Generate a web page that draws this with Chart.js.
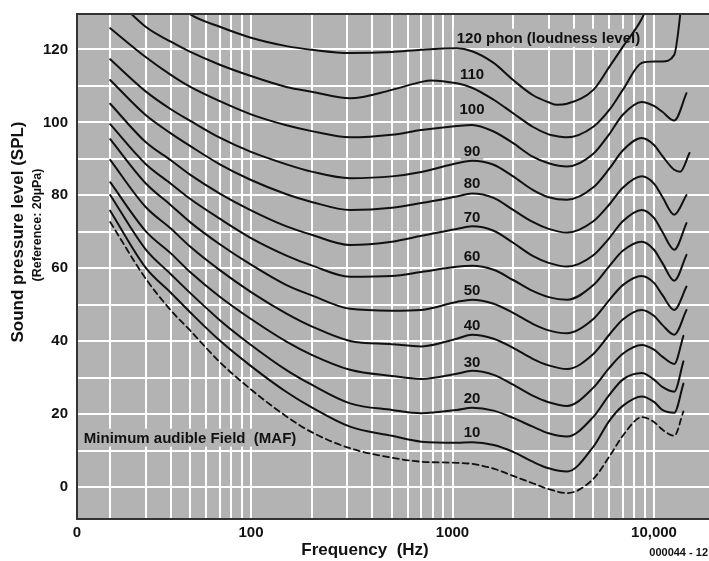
<!DOCTYPE html>
<html>
<head>
<meta charset="utf-8">
<title>Equal loudness contours</title>
<script src="https://cdn.jsdelivr.net/npm/chart.js@4.4.1/dist/chart.umd.min.js"></script>
<style>
  html, body { margin: 0; padding: 0; background: #fff; }
</style>
</head>
<body>
<canvas id="chart" width="709" height="561"></canvas>
<script>
const freqHz = [20, 30, 40, 50, 70, 100, 150, 200, 310, 500, 700, 780, 1050, 1250, 1600,
  2000, 2500, 3000, 3300, 3700, 5000, 6000, 7000, 8700, 10000, 11000, 12600, 13500, 14000, 14500, 15000];

// sound pressure level (dB SPL) of each contour, null = not read at that frequency
const mafDb = [72.7, 57.2, 48.5, 42.9, 34.3, 26.8, 19.4, 15.1, 10.7, 8.1, 7.0, null, 6.7, 6.4, 5.1,
  3.1, 1.1, -0.5, null, -1.6, 2.3, 8.4, 14.1, 19.2, 17.9, 15.8, 14.1, null, 20.8, null, null];
const phon10 = [75.8, 60.2, 53.3, 47.9, 40.2, 33.2, 26.1, 21.9, 16.6, 14.1, 12.5, null, 12.2, 12.3, 11.6,
  9.7, 7.0, 5.2, null, 4.3, 11.1, 18.2, 22.3, 24.9, 23.4, 21.2, 20.4, null, 28.4, null, null];
const phon20 = [80.1, 65.2, 58.4, 53.2, 45.8, 39.0, 32.1, 28.1, 23.0, 21.2, 20.3, null, 21.2, 21.8, 21.0,
  19.0, 16.6, 14.8, null, 13.9, 19.3, 25.3, 29.5, 31.3, 29.5, 27.5, 26.2, null, 34.5, null, null];
const phon30 = [83.6, 70.2, 64.1, 58.9, 52.2, 46.1, 39.9, 36.3, 32.2, 30.5, 29.7, null, 31.1, 31.9, 30.8,
  28.1, 25.1, 23.3, null, 22.3, 27.3, 32.7, 36.6, 39.0, 37.7, 35.8, 33.8, null, 41.5, null, null];
const phon40 = [89.7, 76.8, 70.9, 65.9, 59.5, 53.5, 47.6, 44.1, 40.1, 39.2, 38.6, null, 40.7, 41.8, 40.7,
  38.2, 35.2, 33.4, null, 32.4, 36.5, 41.8, 46.0, 48.6, 47.0, 44.5, 41.8, null, null, 48.6, null];
const phon50 = [95.4, 83.3, 77.3, 72.6, 66.6, 61.0, 55.4, 52.6, 48.9, 48.4, 48.6, null, 50.8, 51.4, 50.3,
  47.8, 44.8, 43.0, null, 42.2, 46.1, 51.3, 55.4, 57.9, 56.0, 52.7, 48.6, null, null, 55.0, null];
const phon60 = [99.5, 88.6, 83.2, 79.0, 73.6, 68.3, 63.5, 60.8, 57.7, 57.9, 59.0, null, 60.4, 60.7, 59.6,
  56.8, 53.8, 52.1, null, 51.4, 55.4, 60.6, 64.8, 67.3, 65.1, 61.5, 56.6, null, null, 63.7, null];
const phon70 = [105.1, 94.6, 89.6, 85.6, 80.5, 75.9, 71.5, 69.2, 66.4, 67.3, 68.9, null, 70.8, 71.5, 70.3,
  67.0, 63.4, 61.5, null, 60.5, 63.6, 68.3, 72.9, 76.0, 73.8, 70.0, 65.1, null, null, 72.4, null];
const phon80 = [111.6, 102.0, 97.0, 93.5, 88.5, 84.2, 80.3, 78.2, 76.0, 76.6, 77.9, null, 79.7, 80.5, 79.3,
  76.0, 72.7, 70.8, null, 69.8, 72.9, 77.5, 82.1, 85.2, 83.2, 79.6, 74.7, null, null, 80.1, null];
const phon90 = [117.3, 108.5, 103.6, 100.4, 95.8, 91.9, 88.5, 86.5, 84.7, 85.2, 86.4, null, 88.8, 89.5, 88.4,
  85.2, 81.5, 79.5, null, 78.8, 82.2, 87.3, 92.3, 95.7, 93.8, 90.8, 87.0, 86.5, null, null, 91.6];
const phon100 = [125.8, 117.9, 113.0, 109.7, 105.8, 102.2, 99.2, 97.6, 95.9, 96.6, 97.9, null, 99.0, 99.3, 97.5,
  94.3, 90.6, 88.8, null, 87.9, 91.4, 96.8, 102.1, 105.6, 104.5, 102.9, 100.5, null, null, 108.0, null];
const phon110 = [135.5, 126.2, 122.1, 119.3, 115.8, 112.7, 109.7, 108.4, 106.6, 108.9, 111.1, 111.5, 110.7, 109.5, 106.2,
  102.5, 98.8, 96.7, 96.2, 95.9, 98.8, 103.4, 108.9, 116.3, 116.7, 116.7, 118.5, 129.7, 140.0, null, null];
const phon120 = [null, null, 134.1, 129.6, 126.2, 123.2, 120.9, 119.9, 119.0, 119.3, 119.9, null, 120.3, 119.5, 116.3,
  111.6, 107.5, 105.5, 104.8, 105.1, 108.9, 115.2, 120.7, 128.4, 136.3, null, null, null, null, null, null];

// curve labels
const contourLabels = ['120 phon (loudness level)', '110', '100', '90', '80', '70', '60', '50', '40', '30', '20', '10'];
const contourLabelDb = [123.2, 113.3, 103.7, 92.2, 83.4, 74.1, 63.4, 54.1, 44.5, 34.4, 24.5, 15.2];
const contourLabelHz = [1050, 1250, 1250, 1250, 1250, 1250, 1250, 1250, 1250, 1250, 1250, 1250];
const mafLabel = 'Minimum audible Field  (MAF)';
const mafLabelHz = 14.8;
const mafLabelDb = 13.6;

// axes
const X_MIN = 13.69;
const X_MAX = 18750;
const Y_MIN = -8.7;
const Y_MAX = 129.7;
const freqGrid = [20, 30, 40, 50, 60, 70, 80, 90, 100, 200, 300, 400, 500, 600, 700, 800, 900,
  1000, 2000, 3000, 4000, 5000, 6000, 7000, 8000, 9000, 10000];
const freqLabelled = [X_MIN, 100, 1000, 10000];
const freqLabelText = ['0', '100', '1000', '10,000'];
const levelGrid = [0, 10, 20, 30, 40, 50, 60, 70, 80, 90, 100, 110, 120];

const PLOT_BG = '#b3b3b3';
const INK = '#111';
const FONT = '"Liberation Sans", Arial, Helvetica, sans-serif';

Chart.defaults.font.family = FONT;

const toPoints = levels => freqHz
  .map((f, i) => ({ x: f, y: levels[i] }))
  .filter(p => p.y !== null);

const solid = [phon10, phon20, phon30, phon40, phon50, phon60, phon70, phon80, phon90, phon100, phon110, phon120];

const datasets = [{
  label: 'MAF',
  data: toPoints(mafDb),
  borderColor: INK,
  borderWidth: 1.8,
  borderDash: [6, 4]
}].concat(solid.map((lv, i) => ({
  label: (i + 1) * 10 + ' phon',
  data: toPoints(lv),
  borderColor: INK,
  borderWidth: 2
})));

const decor = {
  id: 'decor',
  beforeDraw(chart) {
    const { ctx, chartArea: a } = chart;
    ctx.save();
    ctx.fillStyle = PLOT_BG;
    ctx.fillRect(a.left, a.top, a.right - a.left, a.bottom - a.top);
    ctx.restore();
  },
  beforeDatasetsDraw(chart) {
    // labels sit on grey patches which hide the grid behind them
    const { ctx, scales: { x, y } } = chart;
    ctx.save();
    ctx.font = 'bold 15px ' + FONT;
    ctx.textBaseline = 'middle';
    ctx.textAlign = 'left';
    const put = (text, hz, db, align) => {
      const w = ctx.measureText(text).width;
      const px = x.getPixelForValue(hz);
      const py = y.getPixelForValue(db);
      const left = align === 'left' ? px : px - w / 2;
      ctx.fillStyle = PLOT_BG;
      ctx.fillRect(left - 3, py - 9, w + 6, 18);
      ctx.fillStyle = INK;
      ctx.fillText(text, left, py + 1);
    };
    contourLabels.forEach((t, i) => put(t, contourLabelHz[i], contourLabelDb[i], i === 0 ? 'left' : 'center'));
    put(mafLabel, mafLabelHz, mafLabelDb, 'left');
    ctx.restore();
  },
  afterDatasetsDraw(chart) {
    const { ctx, chartArea: a } = chart;
    ctx.save();
    ctx.strokeStyle = '#333';
    ctx.lineWidth = 2;
    ctx.beginPath();
    ctx.moveTo(a.right, a.top);
    ctx.lineTo(a.left, a.top);
    ctx.lineTo(a.left, a.bottom);
    ctx.lineTo(a.right, a.bottom);
    ctx.stroke();
    ctx.restore();
  },
  afterDraw(chart) {
    const { ctx } = chart;
    ctx.save();
    ctx.fillStyle = INK;
    ctx.textAlign = 'center';
    ctx.textBaseline = 'middle';
    ctx.font = 'bold 17px ' + FONT;
    ctx.fillText('Frequency  (Hz)', 365, 550);

    ctx.save();
    ctx.translate(18, 232);
    ctx.rotate(-Math.PI / 2);
    ctx.fillText('Sound pressure level (SPL)', 0, 0);
    ctx.restore();

    ctx.save();
    ctx.translate(38, 225);
    ctx.rotate(-Math.PI / 2);
    ctx.font = 'bold 12.5px ' + FONT;
    ctx.fillText('(Reference: 20µPa)', 0, 0);
    ctx.restore();

    ctx.textAlign = 'right';
    ctx.font = 'bold 11px ' + FONT;
    ctx.fillText('000044 - 12', 708, 553);
    ctx.restore();
  }
};

new Chart(document.getElementById('chart'), {
  type: 'line',
  data: { datasets },
  options: {
    responsive: false,
    animation: false,
    events: [],
    layout: { padding: { top: 14, right: 0, bottom: 0, left: 0 } },
    elements: {
      point: { radius: 0 },
      line: { cubicInterpolationMode: 'monotone', borderCapStyle: 'round', borderJoinStyle: 'round' }
    },
    plugins: { legend: { display: false }, tooltip: { enabled: false } },
    scales: {
      x: {
        type: 'logarithmic',
        min: X_MIN,
        max: X_MAX,
        afterBuildTicks: s => { s.ticks = [X_MIN].concat(freqGrid).map(v => ({ value: v })); },
        afterFit: s => { s.height = 42; s.paddingLeft = 0; s.paddingRight = 0; },
        border: { display: false },
        grid: {
          color: c => (c.tick && c.tick.value === X_MIN ? 'rgba(0,0,0,0)' : '#fff'),
          lineWidth: 2,
          drawTicks: false
        },
        ticks: {
          autoSkip: false,
          maxRotation: 0,
          padding: 5,
          color: INK,
          font: { size: 15, weight: 'bold' },
          callback: v => {
            const k = freqLabelled.indexOf(v);
            return k < 0 ? '' : freqLabelText[k];
          }
        }
      },
      y: {
        min: Y_MIN,
        max: Y_MAX,
        afterBuildTicks: s => { s.ticks = levelGrid.map(v => ({ value: v })); },
        afterFit: s => { s.width = 77; s.paddingTop = 0; s.paddingBottom = 0; },
        border: { display: false },
        grid: { color: '#fff', lineWidth: 2, drawTicks: false },
        ticks: {
          padding: 9,
          color: INK,
          font: { size: 15, weight: 'bold' },
          callback: v => (v % 20 === 0 ? String(v) : '')
        }
      }
    }
  },
  plugins: [decor]
});
</script>
</body>
</html>
